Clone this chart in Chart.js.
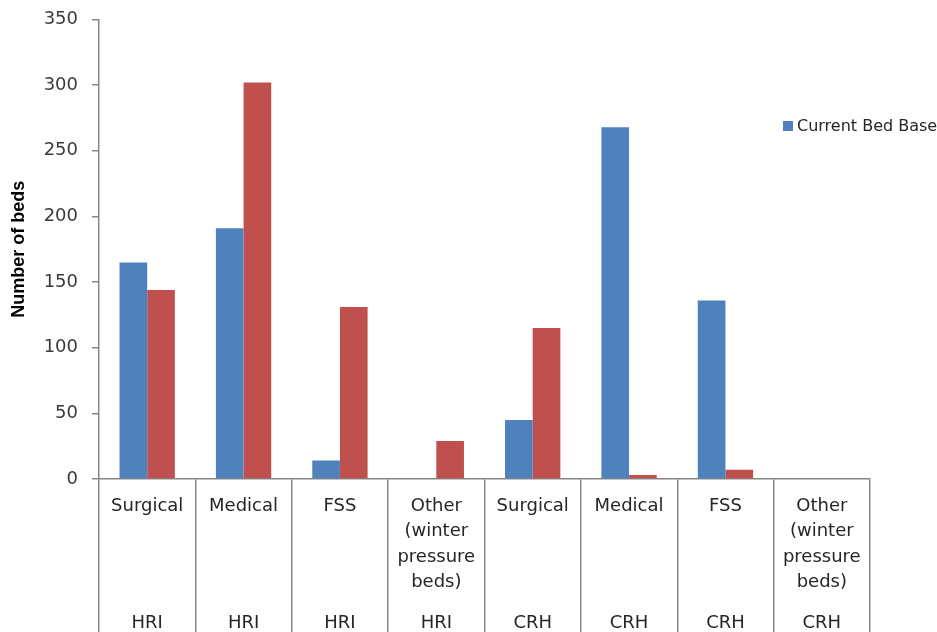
<!DOCTYPE html>
<html>
<head>
<meta charset="utf-8">
<script src="https://cdn.jsdelivr.net/npm/chart.js@4.4.1/dist/chart.umd.min.js"></script>
<style>
  html, body { margin: 0; padding: 0; background: #ffffff; }
  #wrap { width: 937px; height: 632px; position: relative; }
</style>
</head>
<body>
<div id="wrap"><canvas id="chart"></canvas></div>
<script>
// Bed type per column, wrapped the way it is printed under the axis
const categoryLines = [
  ['Surgical'], ['Medical'], ['FSS'], ['Other', '(winter', 'pressure', 'beds)'],
  ['Surgical'], ['Medical'], ['FSS'], ['Other', '(winter', 'pressure', 'beds)']
];
// Hospital site for each column
const sites = ['HRI', 'HRI', 'HRI', 'HRI', 'CRH', 'CRH', 'CRH', 'CRH'];
// Number of beds
const currentBedBase = [165, 191, 14, 0, 45, 268, 136, 0];
const requiredBedBase = [144, 302, 131, 29, 115, 3, 7, 0];
// Value axis ticks
const yMin = 0, yMax = 350, yStep = 50;

const axisGrey = '#868686';
const textFont = "'DejaVu Sans', Verdana, sans-serif";

// Two-level category table under the x axis
const categoryTable = {
  id: 'categoryTable',
  afterDraw(chart) {
    const ctx = chart.ctx;
    const x = chart.scales.x;
    const base = chart.chartArea.bottom;
    ctx.save();
    ctx.fillStyle = '#262626';
    ctx.textAlign = 'center';
    ctx.textBaseline = 'middle';
    ctx.font = '18px ' + textFont;
    categoryLines.forEach((lines, i) => {
      const cx = x.getPixelForValue(i);
      lines.forEach((t, j) => ctx.fillText(t, cx, base + 27 + j * 25.5));
      ctx.fillText(sites[i], cx, base + 144);
    });
    ctx.restore();
  }
};

// Legend entry for the blue series, drawn over the right side of the plot
const sideLegend = {
  id: 'sideLegend',
  afterDraw(chart) {
    const ctx = chart.ctx;
    const ds = chart.data.datasets[0];
    ctx.save();
    ctx.fillStyle = ds.backgroundColor;
    ctx.fillRect(783, 121, 10, 10);
    ctx.fillStyle = '#262626';
    ctx.font = '16px ' + textFont;
    ctx.textAlign = 'left';
    ctx.textBaseline = 'middle';
    ctx.fillText(ds.label, 797, 126.5);
    ctx.restore();
  }
};

new Chart(document.getElementById('chart'), {
  type: 'bar',
  data: {
    labels: categoryLines.map((l, i) => l.join(' ') + ' ' + sites[i]),
    datasets: [
      { label: 'Current Bed Base', data: currentBedBase, backgroundColor: '#4F81BD', borderWidth: 0 },
      { label: 'Required Bed Base', data: requiredBedBase, backgroundColor: '#C0504D', borderWidth: 0 }
    ]
  },
  options: {
    responsive: true,
    maintainAspectRatio: false,
    animation: false,
    layout: { padding: { top: 19.5, right: 67, left: 0, bottom: 0 } },
    datasets: { bar: { categoryPercentage: 0.574, barPercentage: 1.0 } },
    plugins: {
      legend: { display: false },
      tooltip: { enabled: false }
    },
    scales: {
      x: {
        grid: {
          offset: true,
          drawOnChartArea: false,
          drawTicks: true,
          tickLength: 153,
          color: axisGrey,
          lineWidth: 1.5
        },
        border: { color: axisGrey, width: 1.5 },
        ticks: { display: false },
        afterFit(scale) { scale.height = 153; }
      },
      y: {
        min: yMin,
        max: yMax,
        ticks: {
          stepSize: yStep,
          color: '#3a3a3a',
          font: { family: textFont, size: 18 },
          padding: 14
        },
        grid: {
          drawOnChartArea: false,
          drawTicks: true,
          tickLength: 7,
          color: axisGrey,
          lineWidth: 1.5
        },
        border: { color: axisGrey, width: 1.5 },
        title: {
          display: true,
          text: 'Number of beds',
          color: '#000000',
          font: { family: "'Liberation Sans', Arial, sans-serif", size: 18, weight: 'bold' },
          padding: { top: 8, bottom: 0 }
        },
        afterFit(scale) {
          scale.width = 99;
          scale.paddingTop = 0;
          scale.paddingBottom = 0;
        }
      }
    }
  },
  plugins: [categoryTable, sideLegend]
});
</script>
</body>
</html>
